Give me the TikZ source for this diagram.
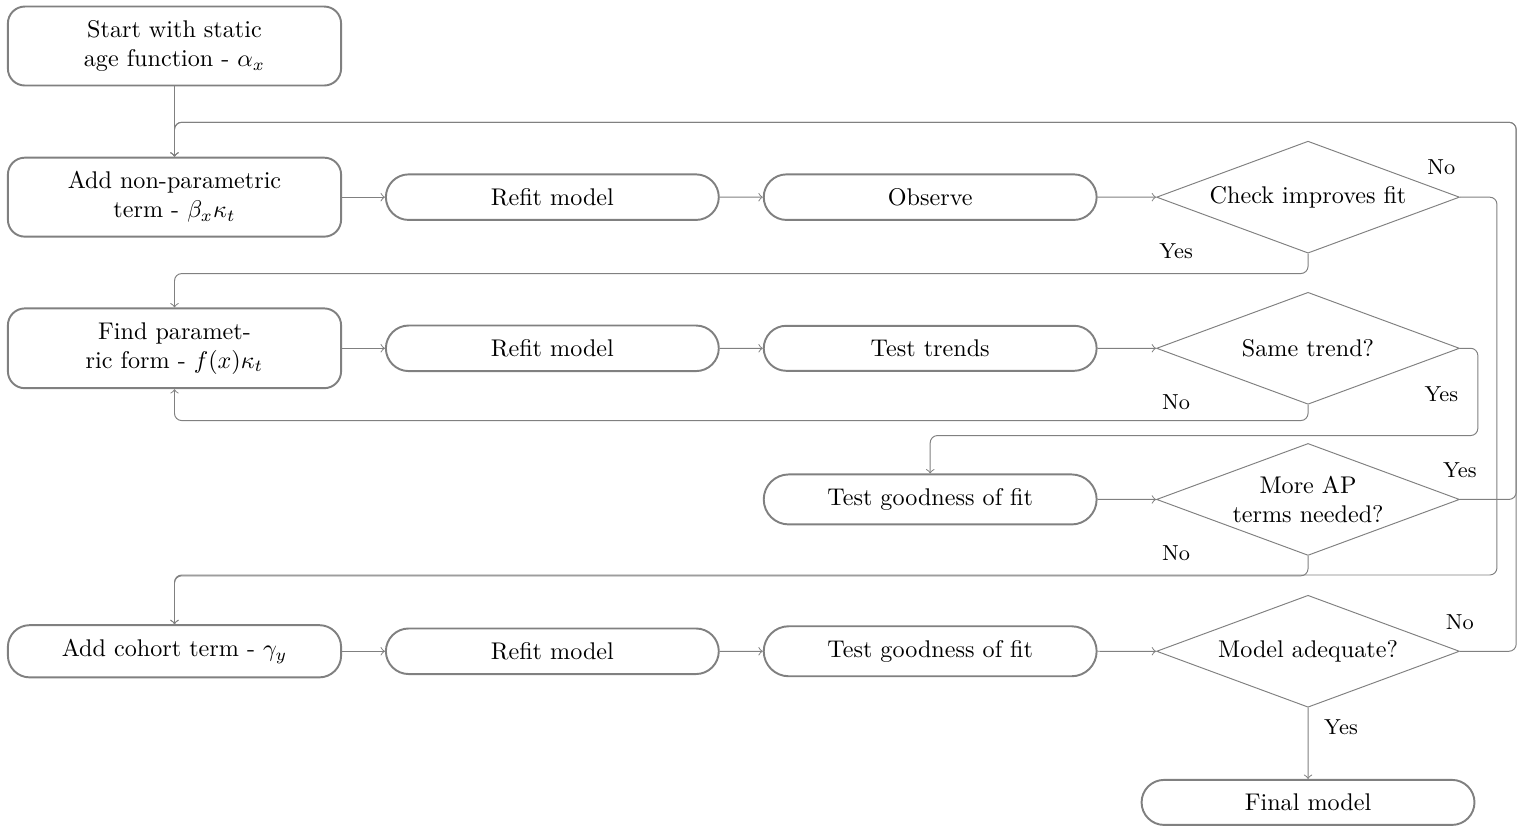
\documentclass[tikz,border=0pt]{standalone}
\usepackage{amsmath}
\usepackage{amssymb}
\usetikzlibrary{shapes.geometric,shapes.misc}

\begin{document}
\begin{tikzpicture}[
    block/.style={draw=gray, thick, rounded corners=7pt, minimum width=4.85cm,
      inner ysep=5.8pt, align=center},
    pill/.style={rounded rectangle, draw=gray, thick, minimum width=5.08cm,
      inner ysep=5.8pt, align=center},
    decision/.style={diamond, draw=gray, aspect=2.7, minimum width=4.41cm,
      minimum height=1.63cm, inner sep=0pt, align=center},
    line/.style={draw=gray, ->, rounded corners=3pt},
    lbl/.style={font=\small}
  ]
  \useasboundingbox (0,0) rectangle (22.14,-12.154);

  % first column
  \node[block] (start) at (2.54,-0.67) {Start with static\\age function - $\alpha_x$};
  \node[block] (addnp) at (2.54,-2.87) {Add non-parametric\\term - $\beta_x\kappa_t$};
  \node[block] (findpar) at (2.54,-5.07) {Find paramet-\\ric form - $f(x)\kappa_t$};
  \node[block, rounded corners=9pt] (cohort) at (2.54,-9.48) {Add cohort term - $\gamma_y$};

  % refits and tests
  \node[pill] (refit1) at (8.04,-2.87) {Refit model};
  \node[pill] (observe) at (13.54,-2.87) {Observe};
  \node[pill] (refit2) at (8.04,-5.07) {Refit model};
  \node[pill] (trends) at (13.54,-5.07) {Test trends};
  \node[pill] (gof1) at (13.54,-7.27) {Test goodness of fit};
  \node[pill] (refit3) at (8.04,-9.48) {Refit model};
  \node[pill] (gof2) at (13.54,-9.48) {Test goodness of fit};
  \node[pill] (final) at (19.04,-11.68) {Final model};

  % decisions
  \node[decision] (chkfit) at (19.04,-2.87) {Check improves fit};
  \node[decision] (same) at (19.04,-5.07) {Same trend?};
  \node[decision] (moreap) at (19.04,-7.27) {More AP\\terms needed?};
  \node[decision] (adeq) at (19.04,-9.48) {Model adequate?};

  \coordinate (back) at (22.07,-1.78);
  \coordinate (skip) at (21.79,-8.37);

  % straight connectors
  \draw[line] (start) -- (addnp);
  \draw[line] (addnp) -- (refit1);
  \draw[line] (refit1) -- (observe);
  \draw[line] (observe) -- (chkfit);
  \draw[line] (findpar) -- (refit2);
  \draw[line] (refit2) -- (trends);
  \draw[line] (trends) -- (same);
  \draw[line] (gof1) -- (moreap);
  \draw[line] (cohort) -- (refit3);
  \draw[line] (refit3) -- (gof2);
  \draw[line] (gof2) -- (adeq);
  \draw[line] (adeq) -- (final);

  % loops
  \draw[line] (moreap.east) -| (back) -| (addnp.north);
  \draw[line] (adeq.east) -| (back) -| (addnp.north);
  \draw[line] (chkfit.east) -| (skip) -| (cohort.north);
  \draw[line] (moreap.south) -- ++(0,-0.29) -| (cohort.north);
  \draw[line] (chkfit.south) -- ++(0,-0.29) -| (findpar.north);
  \draw[line] (same.south) -- ++(0,-0.23) -| (findpar.south);
  \draw[line] (same.east) -- ++(0.26,0) -- ++(0,-1.27) -| (gof1.north);

  % yes / no
  \node[lbl] (no1) at (20.98,-2.43) {No};
  \node[lbl] (yes1) at (17.12,-3.65) {Yes};
  \node[lbl] (no2) at (17.12,-5.85) {No};
  \node[lbl] (yes2) at (20.98,-5.74) {Yes};
  \node[lbl] (yes3) at (21.25,-6.84) {Yes};
  \node[lbl] (no3) at (17.12,-8.05) {No};
  \node[lbl] (no4) at (21.25,-9.05) {No};
  \node[lbl] (yes4) at (19.52,-10.58) {Yes};
\end{tikzpicture}
\end{document}
